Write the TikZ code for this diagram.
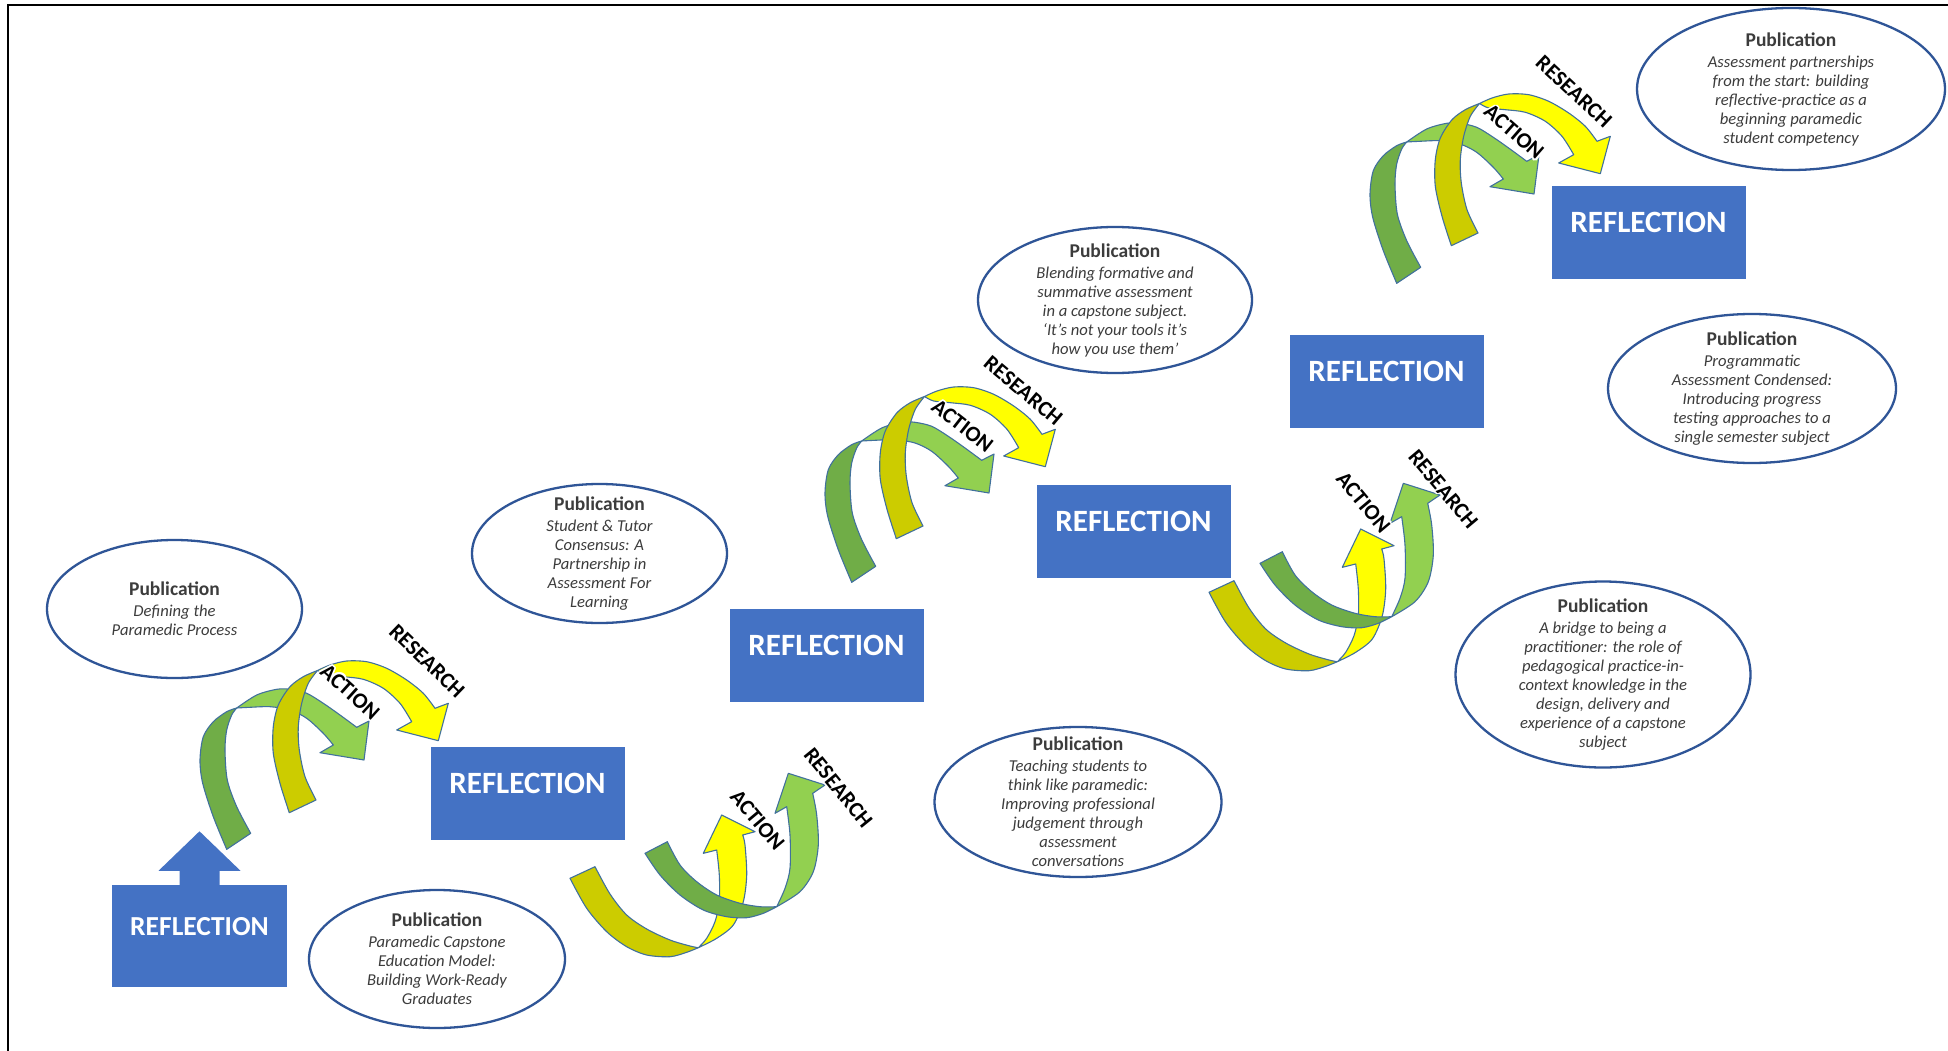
\documentclass[tikz,border=0pt]{standalone}
\usepackage{fontspec}
\setmainfont{Carlito}
\usetikzlibrary{shapes.geometric,calc}

\definecolor{boxblue}{HTML}{4472C4}
\definecolor{ringblue}{HTML}{2F5597}
\definecolor{edgeblue}{HTML}{41719C}
\definecolor{inkgrey}{HTML}{3C3C3C}
\definecolor{armDark}{HTML}{70AD47}
\definecolor{armLight}{HTML}{92D050}
\definecolor{armOlive}{HTML}{CCCC00}
\definecolor{armYellow}{HTML}{FFFF00}

\tikzset{
  reflect/.style={fill=boxblue, text=white, font=\bfseries\fontsize{31}{31}\selectfont,
    minimum width=194pt, minimum height=93pt, inner sep=0pt,
    text height=19.6pt, text depth=19.6pt},
  pubring/.style={ellipse, draw=ringblue, line width=2.3pt, fill=white, inner sep=0pt},
  pubtext/.style={align=center, text=inkgrey, font=\itshape\fontsize{16.6}{19}\selectfont, inner sep=0pt},
  band/.style={draw=edgeblue, line width=1.1pt, line join=round},
  steplabel/.style={font=\bfseries\fontsize{22}{22}\selectfont, inner sep=0pt},
}

\newcommand\pubhead{{\upshape\bfseries\fontsize{19.5}{19.5}\selectfont Publication}\\[2pt]}

% word with a white halo: name, position, angle, word
\newcommand\steptag[4]{%
  \foreach \hx/\hy in {1.7/0,-1.7/0,0/1.7,0/-1.7,1.2/1.2,-1.2/1.2,1.2/-1.2,-1.2/-1.2}
    \node[steplabel, text=white, rotate=#3] at ($#2+(\hx pt,\hy pt)$) {#4};
  \node[steplabel, text=black, rotate=#3] (#1) at #2 {#4};
}

% arc over the top: green leg and green head band
\newcommand\overgreen{%
  \filldraw[band, fill=armDark] plot[smooth] coordinates {(226.7,849.3) (213.3,816.7) (202.7,783.3) (200,760) (203.3,736.7) (213.3,721.7) (226.7,711.7) (236.7,708)}
    -- plot[smooth] coordinates {(236.7,708) (231.7,715) (226.7,730) (225,750) (227.3,780) (236.7,806.7) (250.7,833.3)} -- cycle;
  \filldraw[band, fill=armLight] plot[smooth] coordinates {(236.7,708) (256.7,695) (276.7,689.3) (290,689.3) (306.7,693.3) (323.3,703.3) (340,715) (356.7,727.3)}
    -- (369,721) -- (364,760) -- (320,752.7) -- (333.3,745)
    -- plot[smooth] coordinates {(333.3,745) (323.3,733.3) (306.7,718.3) (290,710) (270,706.7) (250,707.3) (236.7,708)} -- cycle;
}
% arc over the top: olive leg and yellow head band
\newcommand\overyellow{%
  \filldraw[band, fill=armOlive] plot[smooth] coordinates {(289.3,812.7) (280,783.3) (273.3,753.3) (273.3,726.7) (278.3,705) (290,686.7) (303.3,676.7) (317.5,670.5)}
    -- plot[smooth] coordinates {(317.5,670.5) (308.3,683.3) (301.7,703.3) (298.3,726.7) (299.3,750) (305,776.7) (316,800)} -- cycle;
  \filldraw[band, fill=armYellow] plot[smooth] coordinates {(317.5,670.5) (330,665) (346.7,661) (366.7,661.7) (386.7,668.3) (406.7,680) (423.3,693.3) (435,708.3)}
    -- (448.3,703.3) -- (438.3,740.7) -- (396.7,730) -- (411.7,721.7)
    -- plot[smooth] coordinates {(411.7,721.7) (400,703.3) (383.3,688.3) (363.3,679.3) (343.3,676.7) (326.7,675) (317.5,670.5)} -- cycle;
}
% arc through a trough: olive tail and yellow rising head
\newcommand\uyellow{%
  \filldraw[band, fill=armOlive] plot[smooth] coordinates {(570,878.3) (586.7,908.3) (606.7,931.7) (626.7,946.7) (646.7,955) (670,956.7) (686.7,952.3) (698.3,947.7)}
    -- plot[smooth] coordinates {(698.3,947.7) (690,946) (670,940) (646.7,929) (626.7,915) (610,894) (595,866.7)} -- cycle;
  \filldraw[band, fill=armYellow] plot[smooth] coordinates {(698.3,947.7) (716.7,938.3) (733.3,925) (743.3,901.7) (746.7,875) (745,845) (742.7,835)}
    -- (755,831.7) -- (721.7,815) -- (703.3,853.3) -- (716.7,850)
    -- plot[smooth] coordinates {(716.7,850) (719.3,875) (719.3,901.7) (715,921.7) (706.7,938.3) (698.3,947.7)} -- cycle;
}
% arc through a trough: dark green tail and light green rising head
\newcommand\ugreen{%
  \filldraw[band, fill=armDark] plot[smooth] coordinates {(645,853.3) (660,875) (680,895) (703.3,910) (726.7,916.7) (746.7,917.7) (763.3,913.3) (776.7,906.7)}
    -- plot[smooth] coordinates {(776.7,906.7) (760,906.7) (740,903.3) (716.7,895) (696.7,881.7) (680,865) (667.3,841.7)} -- cycle;
  \filldraw[band, fill=armLight] plot[smooth] coordinates {(776.7,906.7) (800,891.7) (813.3,871.7) (818.3,845) (816.7,815) (812.7,793.3)}
    -- (825,785) -- (788.3,773.3) -- (775,813.3) -- (786.7,806.7)
    -- plot[smooth] coordinates {(786.7,806.7) (790,835) (790,868.3) (785,888.3) (776.7,906.7)} -- cycle;
}

\begin{document}
\begin{tikzpicture}[x=1pt, y=-1pt]
\useasboundingbox (0,0) rectangle (1948,1051);
\fill[white] (0,0) rectangle (1948,1051);
\draw[line width=2pt] (8,1051) -- (8,5) -- (1948,5);

% publications
\node[pubring, minimum width=255pt, minimum height=138pt] (p1) at (174.5,609) {};
\node[pubtext] (p1t) at (p1.center) {\pubhead Defining the\\ Paramedic Process};
\node[pubring, minimum width=256pt, minimum height=138pt] (p2) at (437,959) {};
\node[pubtext] (p2t) at (p2.center) {\pubhead Paramedic Capstone\\ Education Model:\\ Building Work-Ready\\ Graduates};
\node[pubring, minimum width=255pt, minimum height=139pt] (p3) at (599.5,553.5) {};
\node[pubtext] (p3t) at (p3.center) {\pubhead Student \& Tutor\\ Consensus: A\\ Partnership in\\ Assessment For\\ Learning};
\node[pubring, minimum width=287pt, minimum height=150pt] (p4) at (1078,802) {};
\node[pubtext] (p4t) at (p4.center) {\pubhead Teaching students to\\ think like paramedic:\\ Improving professional\\ judgement through\\ assessment\\ conversations};
\node[pubring, minimum width=274pt, minimum height=146pt] (p5) at (1115,300) {};
\node[pubtext] (p5t) at (p5.center) {\pubhead Blending formative and\\ summative assessment\\ in a capstone subject.\\ ‘It’s not your tools it’s\\ how you use them’};
\node[pubring, minimum width=295pt, minimum height=186pt] (p6) at (1603,674.5) {};
\node[pubtext] (p6t) at (p6.center) {\pubhead A bridge to being a\\ practitioner: the role of\\ pedagogical practice-in-\\ context knowledge in the\\ design, delivery and\\ experience of a capstone\\ subject};
\node[pubring, minimum width=288pt, minimum height=149pt] (p7) at (1752,388.5) {};
\node[pubtext] (p7t) at (p7.center) {\pubhead Programmatic\\ Assessment Condensed:\\ Introducing progress\\ testing approaches to a\\ single semester subject};
\node[pubring, minimum width=308pt, minimum height=162pt] (p8) at (1791,89) {};
\node[pubtext] (p8t) at (p8.center) {\pubhead Assessment partnerships\\ from the start: building\\ reflective-practice as a\\ beginning paramedic\\ student competency};

% reflection stages
\node[reflect, minimum width=175pt, minimum height=102pt, font=\bfseries\fontsize{27.5}{27.5}\selectfont,
      text height=17.4pt, text depth=18pt] (r1) at (199.5,936) {REFLECTION};
\fill[boxblue] ([xshift=-20pt,yshift=-1pt]r1.north) -- ++(0pt,15pt) -- ++(-21pt,0pt)
  -- ([yshift=53.5pt]r1.north) -- ([xshift=41pt,yshift=14pt]r1.north) -- ++(-21pt,0pt) -- ++(0pt,-15pt) -- cycle;
\node[reflect] (r2) at (527.5,793.5) {REFLECTION};
\node[reflect] (r3) at (826.5,655.5) {REFLECTION};
\node[reflect] (r4) at (1133.5,531) {REFLECTION};
\node[reflect] (r5) at (1386.5,381) {REFLECTION};
\node[reflect] (r6) at (1648.5,232.5) {REFLECTION};

% action / research cycles
\overgreen
\overyellow
\uyellow
\ugreen
\begin{scope}[shift={(625,-267)}]\overgreen\end{scope}
\begin{scope}[shift={(607,-274)}]\overyellow\end{scope}
\begin{scope}[shift={(639,-286)}]\uyellow\end{scope}
\begin{scope}[shift={(615,-290)}]\ugreen\end{scope}
\begin{scope}[shift={(1170,-566)}]\overgreen\end{scope}
\begin{scope}[shift={(1162,-567)}]\overyellow\end{scope}

% cycle labels
\steptag{actA}{(350,691.7)}{-42}{ACTION}
\steptag{resA}{(427,661)}{-44}{RESEARCH}
\steptag{actB}{(757.5,820)}{-50}{ACTION}
\steptag{resB}{(838.3,787.5)}{-51}{RESEARCH}
\steptag{actC}{(962.5,425.8)}{-38}{ACTION}
\steptag{resC}{(1023.3,390.8)}{-40}{RESEARCH}
\steptag{actD}{(1363.3,502.5)}{-50}{ACTION}
\steptag{resD}{(1443.3,489.2)}{-50}{RESEARCH}
\steptag{actE}{(1514,131.7)}{-41}{ACTION}
\steptag{resE}{(1574,91.7)}{-43}{RESEARCH}
\end{tikzpicture}
\end{document}
